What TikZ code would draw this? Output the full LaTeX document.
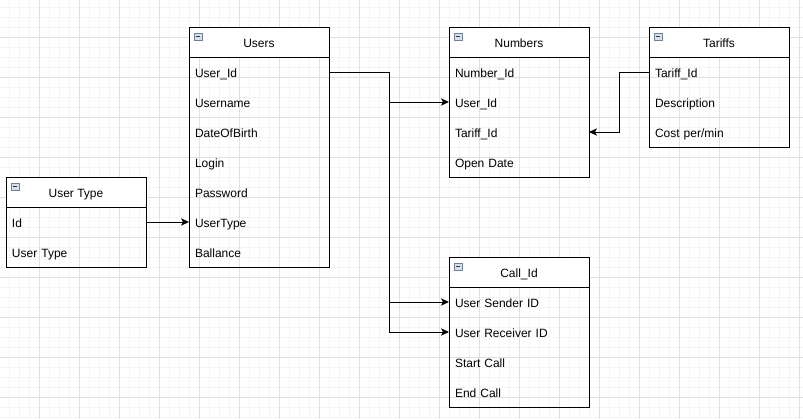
\documentclass[tikz,border=0pt]{standalone}
\usepackage{fontspec}
\setmainfont{Liberation Sans}
\usepackage{xcolor}
\usetikzlibrary{arrows.meta}
\usetikzlibrary{positioning}

\definecolor{gridminor}{RGB}{244,244,244}
\definecolor{gridmajor}{RGB}{224,224,224}
\definecolor{iconfill}{RGB}{214,224,236}
\definecolor{iconline}{RGB}{110,128,150}

\begin{document}
\begin{tikzpicture}[x=0.75pt,y=-0.75pt,
    every node/.style={font=\fontsize{9}{11}\selectfont},
    hdr/.style={draw, line width=0.75pt, fill=white, minimum width=105pt, minimum height=22.5pt, inner sep=0pt, outer sep=0pt, text height=7.8pt, text depth=0pt},
    row/.style={minimum width=105pt, minimum height=22.5pt, inner xsep=4.5pt, inner ysep=0pt, outer sep=0pt, text width=96pt, align=left, text height=7.8pt, text depth=0pt},
    frame/.style={draw, line width=0.75pt},
    link/.style={draw, line width=0.75pt},
    tip/.style={-{Stealth[length=6pt,width=5.5pt,inset=1.5pt]}},
    node distance=0pt]

    \useasboundingbox (0,0) rectangle (803,419);

    %===========================
    % Grid
    %===========================

    \fill[white] (0,0) rectangle (803,419);
    \foreach \x in {9,19,...,799} \draw[gridminor, line width=0.75pt] (\x,0) -- (\x,419);
    \foreach \y in {7,17,...,417} \draw[gridminor, line width=0.75pt] (0,\y) -- (803,\y);
    \foreach \x in {39,79,...,799} \draw[gridmajor, line width=0.75pt] (\x,0) -- (\x,419);
    \foreach \y in {37,77,...,397} \draw[gridmajor, line width=0.75pt] (0,\y) -- (803,\y);



    %===========================
    % Tables
    %===========================

    % Users
    \node[hdr] (users) at (259,42) {Users};
    \node[row, below=of users] (uid) {User\_Id};
    \node[row, below=of uid] (uname) {Username};
    \node[row, below=of uname] (udob) {DateOfBirth};
    \node[row, below=of udob] (ulogin) {Login};
    \node[row, below=of ulogin] (upass) {Password};
    \node[row, below=of upass] (utype) {UserType};
    \node[row, below=of utype] (ubal) {Ballance};
    \draw[frame] (users.north west) rectangle (ubal.south east);

    % User Type
    \node[hdr] (usertype) at (76,192) {User Type};
    \node[row, below=of usertype] (tid) {Id};
    \node[row, below=of tid] (tname) {User Type};
    \draw[frame] (usertype.north west) rectangle (tname.south east);

    % Numbers
    \node[hdr] (numbers) at (519,42) {Numbers};
    \node[row, below=of numbers] (nid) {Number\_Id};
    \node[row, below=of nid] (nuid) {User\_Id};
    \node[row, below=of nuid] (ntid) {Tariff\_Id};
    \node[row, below=of ntid] (ndate) {Open Date};
    \draw[frame] (numbers.north west) rectangle (ndate.south east);

    % Tariffs
    \node[hdr] (tariffs) at (719,42) {Tariffs};
    \node[row, below=of tariffs] (trid) {Tariff\_Id};
    \node[row, below=of trid] (trdesc) {Description};
    \node[row, below=of trdesc] (trcost) {Cost per/min};
    \draw[frame] (tariffs.north west) rectangle (trcost.south east);

    % Call_Id
    \node[hdr] (calls) at (519,272) {Call\_Id};
    \node[row, below=of calls] (csend) {User Sender ID};
    \node[row, below=of csend] (crecv) {User Receiver ID};
    \node[row, below=of crecv] (cstart) {Start Call};
    \node[row, below=of cstart] (cend) {End Call};
    \draw[frame] (calls.north west) rectangle (cend.south east);

    % collapse icons
    \foreach \h in {users,usertype,numbers,tariffs,calls} {
        \draw[iconline, fill=iconfill, line width=0.6pt] ([shift={(5,6)}]\h.north west) rectangle ++(8,7);
        \draw[black!80, line width=0.75pt] ([shift={(7,9.5)}]\h.north west) -- ++(4,0);
    }



    %===========================
    % Links
    %===========================

    \coordinate (fork) at ([shift={(60,0)}]uid.east);
    \coordinate (bend) at ([shift={(-30,0)}]trid.west);

    \draw[link] (uid.east) -- (fork);
    \draw[link, tip] (fork) |- (nuid.west);
    \draw[link, tip] (fork) |- (csend.west);
    \draw[link, tip] (fork) |- (crecv.west);

    \draw[link, tip] (tid.east) -- (utype.west);

    \draw[link] (trid.west) -- (bend);
    \draw[link, tip] (bend) |- (ntid.east);

\end{tikzpicture}
\end{document}
